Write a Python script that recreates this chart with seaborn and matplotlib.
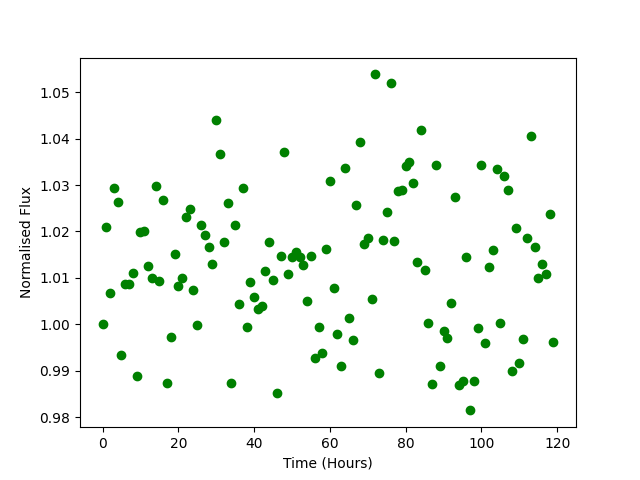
import matplotlib
matplotlib.use("Agg")
import matplotlib.pyplot as plt
import seaborn as sns
import pandas as pd

time_hours = list(range(120))
flux = [
    1.0000, 1.0210, 1.0067, 1.0293, 1.0263, 0.9935, 1.0086, 1.0088, 1.0110, 0.9890,
    1.0198, 1.0200, 1.0125, 1.0100, 1.0297, 1.0093, 1.0267, 0.9873, 0.9972, 1.0151,
    1.0082, 1.0099, 1.0231, 1.0249, 1.0073, 0.9998, 1.0215, 1.0192, 1.0166, 1.0130,
    1.0440, 1.0366, 1.0177, 1.0261, 0.9875, 1.0215, 1.0043, 1.0293, 0.9995, 1.0091,
    1.0058, 1.0033, 1.0039, 1.0114, 1.0177, 1.0095, 0.9853, 1.0147, 1.0370, 1.0108,
    1.0145, 1.0156, 1.0145, 1.0128, 1.0050, 1.0147, 0.9927, 0.9995, 0.9938, 1.0162,
    1.0308, 1.0078, 0.9980, 0.9910, 1.0336, 1.0013, 0.9966, 1.0258, 1.0392, 1.0174,
    1.0187, 1.0054, 1.0538, 0.9895, 1.0181, 1.0241, 1.0519, 1.0179, 1.0287, 1.0289,
    1.0340, 1.0349, 1.0304, 1.0134, 1.0418, 1.0117, 1.0002, 0.9871, 1.0343, 0.9910,
    0.9985, 0.9970, 1.0046, 1.0274, 0.9869, 0.9879, 1.0145, 0.9815, 0.9879, 0.9993,
    1.0343, 0.9960, 1.0123, 1.0160, 1.0334, 1.0004, 1.0319, 1.0289, 0.9899, 1.0207,
    0.9916, 0.9968, 1.0187, 1.0405, 1.0166, 1.0100, 1.0130, 1.0108, 1.0237, 0.9962,
]

df = pd.DataFrame({"time": time_hours, "flux": flux})

fig, ax = plt.subplots(figsize=(6.4, 4.8), dpi=100)
sns.scatterplot(data=df, x="time", y="flux", ax=ax, color="green",
                s=36, edgecolor="green", linewidth=1.0)
ax.set_xlabel("Time (Hours)")
ax.set_ylabel("Normalised Flux")
fig.savefig("out.png", dpi=100)
